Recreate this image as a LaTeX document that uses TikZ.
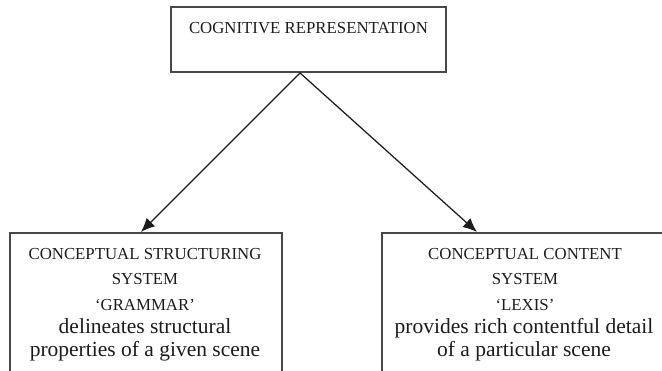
\documentclass[tikz,border=0pt]{standalone}
\usepackage{fontspec}
\setmainfont{Liberation Serif}
\usetikzlibrary{arrows.meta}
\definecolor{ink}{HTML}{1C1C1C}
\definecolor{boxgray}{HTML}{484848}
\begin{document}
\begin{tikzpicture}[x=1pt,y=-1pt,
  frame/.style={draw=boxgray, line width=1.9pt, inner sep=0pt},
  capline/.style={anchor=base, inner sep=0pt, text=ink, font=\fontsize{16.8}{20}\selectfont},
  lowline/.style={anchor=base, inner sep=0pt, text=ink, font=\fontsize{21.5}{25}\selectfont},
  link/.style={draw=ink, line width=1.25pt, -{Latex[length=14pt,width=12pt]}}]
  \clip (0,0) rectangle (662,370);

  % top box
  \node[frame, anchor=north, minimum width=275pt, text height=27pt, text depth=38pt,
        text=ink, font=\fontsize{16.8}{20}\selectfont] (cog) at (308.5,6) {COGNITIVE REPRESENTATION};

  % lower boxes (run past the lower and right edges)
  \node[frame, anchor=north west, minimum width=272pt, minimum height=200pt] (gbox) at (9,232) {};
  \node[frame, anchor=north west, minimum width=360pt, minimum height=200pt] (lbox) at (381,232) {};

  % grammar text
  \node[capline] (g1) at (145,259) {CONCEPTUAL STRUCTURING};
  \node[capline] (g2) at (145,284) {SYSTEM};
  \node[capline] (g3) at (145,310) {`GRAMMAR'};
  \node[lowline] (g4) at (145,333) {delineates structural};
  \node[lowline] (g5) at (145,356) {properties of a given scene};

  % lexis text
  \node[capline] (l1) at (525,259) {CONCEPTUAL CONTENT};
  \node[capline] (l2) at (525,284) {SYSTEM};
  \node[capline] (l3) at (525,310) {`LEXIS'};
  \node[lowline] (l4) at (524,333) {provides rich contentful detail};
  \node[lowline] (l5) at (524,356) {of a particular scene};

  % arrows
  \coordinate (fork) at ([xshift=-8.5pt]cog.south);
  \coordinate (gtip) at ([xshift=-5pt]gbox.north);
  \coordinate (ltip) at ([xshift=-85pt]lbox.north);
  \draw[link] (fork) -- (gtip);
  \draw[link] (fork) -- (ltip);
\end{tikzpicture}
\end{document}
